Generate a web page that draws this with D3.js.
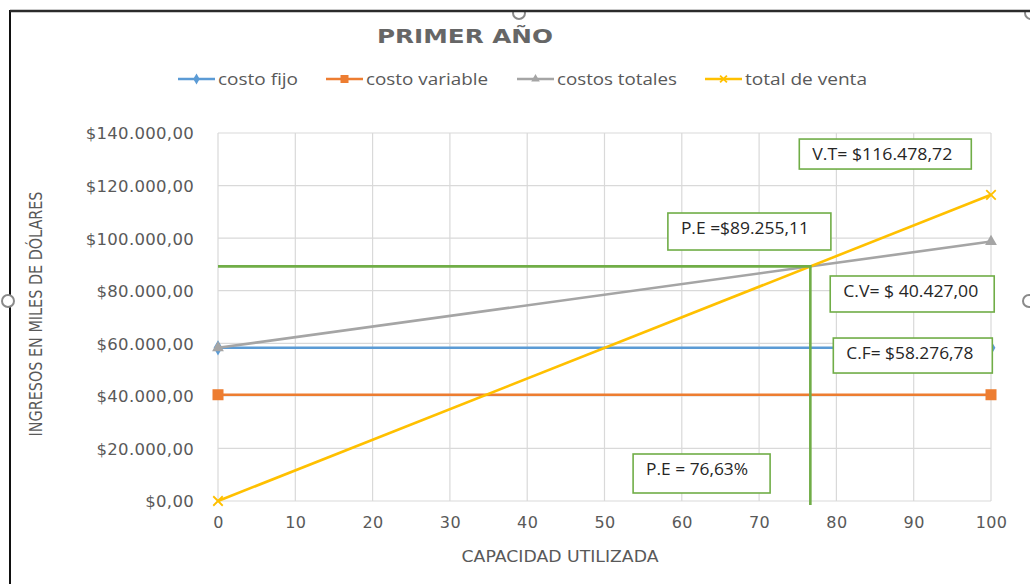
<!DOCTYPE html>
<html>
<head>
<meta charset="utf-8">
<script src="https://cdn.jsdelivr.net/npm/d3@7"></script>
<style>
  body { margin: 0; background: #fff; }
  svg { display: block; }
</style>
</head>
<body>
<svg id="chart" width="1030" height="584"></svg>
<script>
// chart values
var capacidad      = [0, 100];
var costoFijo      = [58276.78, 58276.78];
var costoVariable  = [40427.00, 40427.00];
var costosTotales  = [58276.78, 98703.78];
var totalVenta     = [0, 116478.72];
var serieNombres   = ["costo fijo", "costo variable", "costos totales", "total de venta"];
var xTicks         = [0, 10, 20, 30, 40, 50, 60, 70, 80, 90, 100];
var yTicks         = [0, 20000, 40000, 60000, 80000, 100000, 120000, 140000];
var puntoEquilibrio = { capacidad: 76.63, valor: 89255.11 };
var notasTexto     = ["V.T= $116.478,72", "P.E =$89.255,11", "C.V= $ 40.427,00", "C.F= $58.276,78", "P.E = 76,63%"];

// styling / layout
var colores  = ["#5b9bd5", "#ed7d31", "#a5a5a5", "#ffc000"];
var marcas   = ["diamond", "square", "triangle", "cross"];
var verde    = "#70ad47";
var txtGris  = "#595959";

var svg = d3.select("#chart");

var x = d3.scaleLinear().domain([0, 100]).range([218, 991]);
var y = d3.scaleLinear().domain([0, 140000]).range([501, 133]);

var es = d3.formatLocale({ decimal: ",", thousands: ".", grouping: [3], currency: ["$", ""] });
var fmt = es.format("$,.2f");

// frame bits (excel selection look)
svg.append("line").attr("x1", 10).attr("x2", 10).attr("y1", 10).attr("y2", 584)
   .attr("stroke", "#111").attr("stroke-width", 2);
[[519, 13], [1031, 13], [1029, 301], [8, 301]].forEach(function(p) {
  svg.append("circle").attr("cx", p[0]).attr("cy", p[1]).attr("r", 6)
     .attr("fill", "#fff").attr("stroke", "#8a8a8a").attr("stroke-width", 2);
});
svg.append("rect").attr("x", 0).attr("y", 0).attr("width", 1030).attr("height", 10).attr("fill", "#fff");
svg.append("line").attr("x1", 10).attr("x2", 1030).attr("y1", 11).attr("y2", 11)
   .attr("stroke", "#2b2b2b").attr("stroke-width", 2.5);

// title
svg.append("text")
   .attr("x", 377).attr("y", 43)
   .attr("font-family", "'DejaVu Sans', sans-serif")
   .attr("font-weight", "bold").attr("font-size", 20)
   .attr("fill", "#666")
   .attr("textLength", 176).attr("lengthAdjust", "spacingAndGlyphs")
   .text("PRIMER AÑO");

// grid
var g = svg.append("g");
g.selectAll(".hgrid").data(yTicks).enter().append("line")
  .attr("x1", x(0)).attr("x2", x(100))
  .attr("y1", function(d) { return y(d); }).attr("y2", function(d) { return y(d); })
  .attr("stroke", "#d9d9d9").attr("stroke-width", 1.2);
g.selectAll(".vgrid").data(xTicks).enter().append("line")
  .attr("x1", function(d) { return x(d); }).attr("x2", function(d) { return x(d); })
  .attr("y1", y(140000)).attr("y2", y(0))
  .attr("stroke", "#d9d9d9").attr("stroke-width", 1.2);

// axes via d3 axis, restyled
var yAxis = svg.append("g").attr("transform", "translate(" + (x(0) - 21) + ",0)")
  .call(d3.axisLeft(y).tickValues(yTicks).tickFormat(fmt).tickSize(0));
yAxis.select(".domain").remove();
yAxis.selectAll("text")
  .attr("font-family", "'DejaVu Sans', sans-serif").attr("font-size", 16.5)
  .attr("fill", txtGris).attr("letter-spacing", 0.3).attr("dy", "0.36em");

var xAxis = svg.append("g").attr("transform", "translate(0," + (y(0) + 10) + ")")
  .call(d3.axisBottom(x).tickValues(xTicks).tickFormat(d3.format("d")).tickSize(0));
xAxis.select(".domain").remove();
xAxis.selectAll("text")
  .attr("font-family", "'DejaVu Sans', sans-serif").attr("font-size", 16)
  .attr("fill", txtGris).attr("letter-spacing", 0.4).attr("dy", "0.9em");

// axis titles
svg.append("text")
   .attr("x", 560).attr("y", 562).attr("text-anchor", "middle")
   .attr("font-family", "'DejaVu Sans', sans-serif").attr("font-size", 16)
   .attr("fill", txtGris)
   .attr("textLength", 197).attr("lengthAdjust", "spacingAndGlyphs")
   .text("CAPACIDAD UTILIZADA");
svg.append("text")
   .attr("transform", "translate(42,314) rotate(-90)").attr("text-anchor", "middle")
   .attr("font-family", "'DejaVu Sans', sans-serif").attr("font-size", 17)
   .attr("fill", txtGris)
   .attr("textLength", 245).attr("lengthAdjust", "spacingAndGlyphs")
   .text("INGRESOS EN MILES DE DÓLARES");

// marker helper
function marca(sel, tipo, color, s) {
  if (tipo === "diamond") {
    sel.append("path").attr("d", d3.symbol(d3.symbolDiamond, s * s * 0.55)).attr("fill", color);
  } else if (tipo === "square") {
    sel.append("rect").attr("x", -s / 2).attr("y", -s / 2).attr("width", s).attr("height", s).attr("fill", color);
  } else if (tipo === "triangle") {
    sel.append("path").attr("d", d3.symbol(d3.symbolTriangle, s * s * 0.5)).attr("fill", color);
  } else {
    sel.append("path").attr("d", d3.symbol(d3.symbolX, s * s * 0.5))
       .attr("fill", "none").attr("stroke", color).attr("stroke-width", 1.8);
  }
}

// series
var series = [costoFijo, costoVariable, costosTotales, totalVenta].map(function(vals, i) {
  return { nombre: serieNombres[i], color: colores[i], marca: marcas[i],
           puntos: capacidad.map(function(c, j) { return [c, vals[j]]; }) };
});

var linea = d3.line().x(function(d) { return x(d[0]); }).y(function(d) { return y(d[1]); });

series.forEach(function(s) {
  svg.append("path").datum(s.puntos).attr("d", linea)
     .attr("fill", "none").attr("stroke", s.color).attr("stroke-width", 2.6);
  s.puntos.forEach(function(p) {
    var m = svg.append("g").attr("transform", "translate(" + x(p[0]) + "," + y(p[1]) + ")");
    marca(m, s.marca, s.color, 11);
  });
});

// break-even outline (vertical leg runs a hair past the axis, like the drawn shape)
var pe = [[0, puntoEquilibrio.valor], [puntoEquilibrio.capacidad, puntoEquilibrio.valor], [puntoEquilibrio.capacidad, 0]];
svg.append("path").datum(pe).attr("d", function(d) { return linea(d) + "v4"; })
   .attr("fill", "none").attr("stroke", verde).attr("stroke-width", 2.6);

// legend
var leyendaX = [178, 326, 517, 705];
var leyendaLargo = [80, 122, 120, 122];
series.forEach(function(s, i) {
  var lg = svg.append("g").attr("transform", "translate(" + leyendaX[i] + ",79)");
  lg.append("line").attr("x1", 0).attr("x2", 37).attr("stroke", s.color).attr("stroke-width", 2.6);
  var m = lg.append("g").attr("transform", "translate(18.5,0)");
  marca(m, s.marca, s.color, 8);
  lg.append("text").attr("x", 40).attr("y", 5.5)
    .attr("font-family", "'Open Sans', sans-serif").attr("font-size", 16)
    .attr("fill", txtGris)
    .attr("textLength", leyendaLargo[i]).attr("lengthAdjust", "spacingAndGlyphs")
    .text(s.nombre);
});

// annotation boxes, anchored in data space
var notasPos = [
  { cx: 75.2, cy: 137700, w: 172, h: 30, tl: 140 },
  { cx: 58.2, cy: 109560, w: 163, h: 37, tl: 128 },
  { cx: 79.2, cy: 85600,  w: 164, h: 36, tl: 135 },
  { cx: 79.6, cy: 62000,  w: 159, h: 35, tl: 127 },
  { cx: 53.7, cy: 17880,  w: 137, h: 39, tl: 102 }
];
notasTexto.forEach(function(t, i) {
  var p = notasPos[i];
  var ng = svg.append("g").attr("transform", "translate(" + x(p.cx) + "," + y(p.cy) + ")");
  ng.append("rect").attr("width", p.w).attr("height", p.h)
    .attr("fill", "#fff").attr("stroke", verde).attr("stroke-width", 1.6);
  ng.append("text").attr("x", 13).attr("y", 21)
    .attr("font-family", "'Open Sans', sans-serif").attr("font-size", 16)
    .attr("fill", "#262626")
    .attr("textLength", p.tl).attr("lengthAdjust", "spacingAndGlyphs")
    .text(t);
});
</script>
</body>
</html>
